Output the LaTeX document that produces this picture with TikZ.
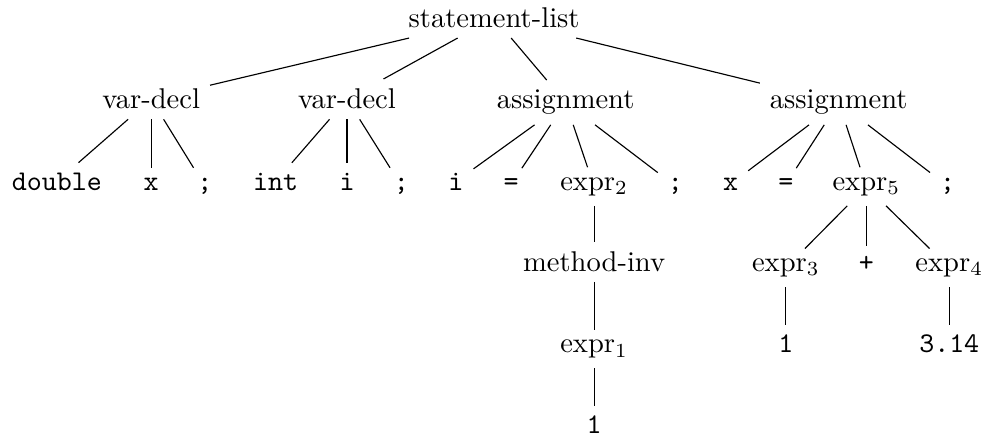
\documentclass[tikz,border=0pt]{standalone}

\begin{document}
\begin{tikzpicture}[
    nt/.style={anchor=base},
    tok/.style={anchor=base, font=\ttfamily},
    rel/.style={-, draw=black},
]
\useasboundingbox (0,-5.03) rectangle (12.12,0.34);

% root
\node[nt] (sl) at (6.08,0) {statement-list};

% statements
\node[nt] (vd1) at (1.86,-1) {var-decl};
\node[nt] (vd2) at (4.27,-1) {var-decl};
\node[nt] (as1) at (6.96,-1) {assignment};
\node[nt] (as2) at (10.32,-1) {assignment};

% declarations
\node[tok] (d1t) at (0.70,-2) {double};
\node[tok] (d1n) at (1.86,-2) {x};
\node[tok] (d1s) at (2.52,-2) {;};
\node[tok] (d2t) at (3.39,-2) {int};
\node[tok] (d2n) at (4.27,-2) {i};
\node[tok] (d2s) at (4.94,-2) {;};

% first assignment
\node[tok] (a1v) at (5.61,-2) {i};
\node[tok] (a1e) at (6.29,-2) {=};
\node[nt]  (e2)  at (7.31,-2) {expr$_2$};
\node[tok] (a1s) at (8.31,-2) {;};
\node[nt]  (mi)  at (7.31,-3) {method-inv};
\node[nt]  (e1)  at (7.31,-4) {expr$_1$};
\node[tok] (one1) at (7.31,-5) {1};

% second assignment
\node[tok] (a2v) at (8.99,-2) {x};
\node[tok] (a2e) at (9.67,-2) {=};
\node[nt]  (e5)  at (10.66,-2) {expr$_5$};
\node[tok] (a2s) at (11.66,-2) {;};
\node[nt]  (e3)  at (9.67,-3) {expr$_3$};
\node[tok] (pl)  at (10.66,-3) {+};
\node[nt]  (e4)  at (11.68,-3) {expr$_4$};
\node[tok] (one2) at (9.67,-4) {1};
\node[tok] (pi)  at (11.68,-4) {3.14};

% edges
\foreach \n in {vd1,vd2,as1,as2} \draw[rel] (sl) -- (\n);
\foreach \n in {d1t,d1n,d1s} \draw[rel] (vd1) -- (\n);
\foreach \n in {d2t,d2n,d2s} \draw[rel] (vd2) -- (\n);
\foreach \n in {a1v,a1e,e2,a1s} \draw[rel] (as1) -- (\n);
\foreach \n in {a2v,a2e,e5,a2s} \draw[rel] (as2) -- (\n);
\foreach \n in {e3,pl,e4} \draw[rel] (e5) -- (\n);
\draw[rel] (e2) -- (mi);
\draw[rel] (mi) -- (e1);
\draw[rel] (e1) -- (one1);
\draw[rel] (e3) -- (one2);
\draw[rel] (e4) -- (pi);
\end{tikzpicture}
\end{document}
